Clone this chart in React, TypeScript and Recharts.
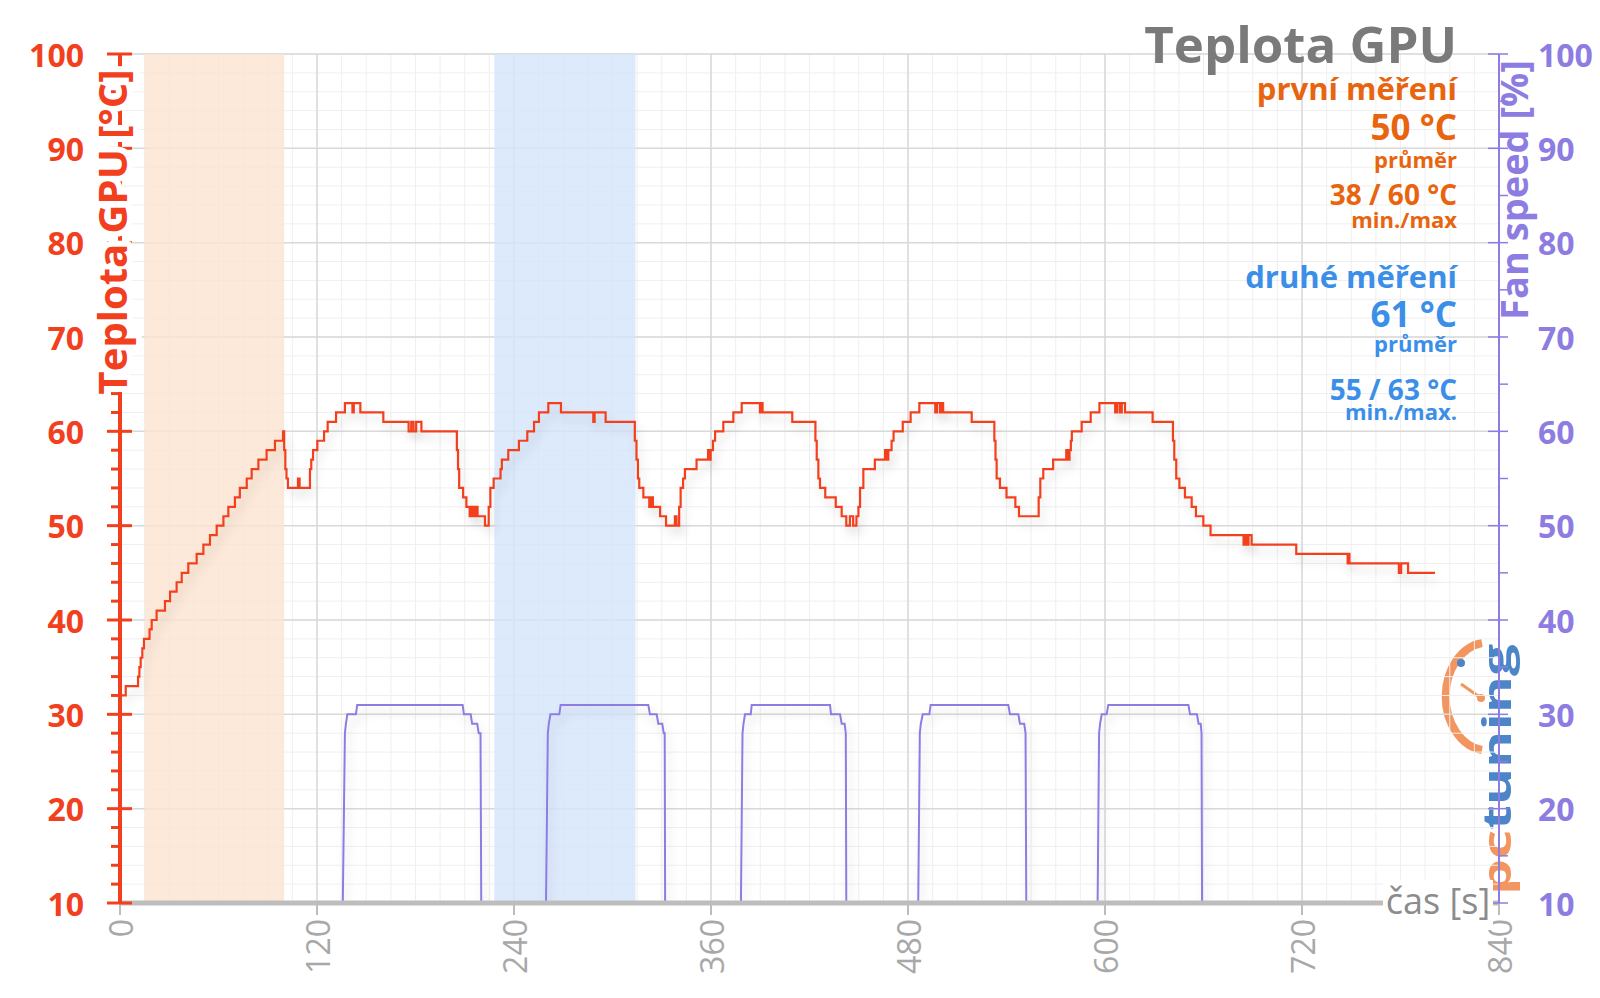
import React from "react";
import { LineChart, Line, XAxis, YAxis, CartesianGrid, ReferenceArea } from "recharts";

// časy [s] a teploty GPU (°C) – body změny hodnoty (schodový průběh)
const tempSteps: [number, number][] = [
  [0, 32], [3.5, 33], [11, 34], [11.8, 35], [12.6, 36], [13.6, 37], [14.6, 38], [18, 39], [19.3, 40],
  [22.3, 41], [27.4, 42], [30.5, 43], [34.5, 44], [37.6, 45], [41.6, 46], [46.7, 47], [50.8, 48],
  [54.8, 49], [58.9, 50], [63, 51], [66, 52], [70, 53], [73, 54], [77.2, 55], [80.2, 56], [84.3, 57],
  [89.3, 58], [94.4, 59], [99.3, 60],
  [100, 58], [100.7, 56], [101.4, 55], [102.3, 54], [108.4, 55], [109.4, 54], [115.7, 56], [116.5, 57],
  [117.6, 58], [120.2, 59], [124.3, 60], [126.5, 61], [131.6, 62], [137, 63], [141.6, 62], [142.4, 63],
  [146.4, 62], [160.4, 61], [175.8, 60], [177.4, 61], [178.8, 60], [180.4, 61], [183.6, 60],
  [205.2, 58], [205.9, 56], [206.6, 54], [209, 53], [211, 52], [213, 51], [214.2, 52], [215.4, 51],
  [216.6, 52], [217.8, 51], [222.3, 50], [224.6, 52], [225.6, 54], [227.6, 55], [231.8, 56], [232.6, 57],
  [236.5, 58], [243, 59], [248.1, 60], [252.2, 61], [255.2, 62], [260.9, 63], [268.6, 62], [288.3, 61],
  [289.1, 62], [295.8, 61],
  [313.6, 59], [314.6, 57], [315.5, 55], [316.3, 54], [318.8, 53], [322.4, 52], [323.4, 53], [324.6, 52],
  [329, 51], [332.6, 50], [338, 51], [339, 50], [340.6, 52], [341.5, 54], [343, 55], [344.1, 56],
  [351.2, 57], [358.2, 58], [359, 57], [359.8, 58], [361.2, 59], [362.5, 60], [367.5, 61], [373.6, 62],
  [378.7, 63], [389.8, 62], [390.4, 63], [391.4, 62], [409.5, 61],
  [423.6, 59], [424.4, 57], [425.4, 55], [426.4, 54], [429.6, 53], [436, 52], [439.6, 51], [442.4, 50],
  [444.6, 51], [446.6, 50], [448.6, 51], [449.8, 52], [450.8, 54], [452.8, 56], [459.8, 57], [466, 58],
  [467, 57], [468, 58], [470, 59], [471.2, 60], [476.8, 61], [481.6, 62], [486.9, 63], [496.6, 62],
  [497.6, 63], [499.4, 62], [500.2, 63], [501.4, 62], [518.8, 61],
  [532.6, 59], [533.3, 57], [534, 55], [536, 54], [540, 53], [545.4, 52], [547.6, 51], [559.6, 53],
  [560.6, 55], [562.4, 56], [568.4, 57], [576.4, 58], [577.4, 57], [578.4, 58], [579.2, 59], [579.8, 60],
  [585.8, 61], [591.3, 62], [596.6, 63], [606.2, 62], [607.4, 63], [609, 62], [610.2, 63], [612.2, 62],
  [629, 61],
  [641.4, 59], [642.2, 57], [643.4, 55], [645.3, 54], [648.7, 53], [652.8, 52], [655.4, 51], [659.9, 50],
  [664.3, 49], [684.4, 48], [685.4, 49], [686.6, 48], [687.4, 49], [689.3, 48], [716.5, 47], [747.8, 46],
  [748.4, 47], [748.9, 46], [779, 45], [780.4, 46], [784.6, 45], [801, 45],
];

// otáčky ventilátoru [%]
const fanPoints: [number, number][] = [
  [0, 0], [135, 0], [137, 28], [137.6, 29], [138.5, 30], [143.7, 30], [144.5, 31], [208.7, 31], [209.5, 30],
  [213.6, 30], [214.5, 29], [217.6, 29], [218.5, 28], [219.6, 28], [220.3, 0],
  [258.9, 0], [260.6, 28], [261.2, 29], [262.2, 30], [267.6, 30], [268.4, 31], [321.8, 31], [322.8, 30],
  [326.9, 30], [327.9, 29], [330.3, 29], [331.2, 28], [331.8, 28], [332.2, 0],
  [377.7, 0], [379.2, 28], [379.8, 29], [380.7, 30], [384.2, 30], [384.8, 31], [432.5, 31], [433.1, 30],
  [438.6, 30], [439.6, 29], [441.4, 29], [442.1, 28], [442.6, 0],
  [485.7, 0], [487.2, 28], [487.8, 29], [489, 30], [493, 30], [493.8, 31], [541.1, 31], [542.1, 30],
  [547.2, 30], [548.2, 29], [550.8, 29], [551.6, 28], [552.3, 0],
  [595, 0], [596.4, 28], [597, 29], [598, 30], [601, 30], [602, 31], [650.8, 31], [651.8, 30],
  [656, 30], [657, 29], [658.3, 29], [658.8, 28], [659.3, 0], [801, 0],
];

const timeTicks = [0, 120, 240, 360, 480, 600, 720, 840];
const tempMajor = [10, 20, 30, 40, 50, 60, 70, 80, 90, 100];
const tempMinor = Array.from({ length: 46 }, (_, i) => 10 + i * 2);
const fanTicks = Array.from({ length: 19 }, (_, i) => 10 + i * 5);
const timeMinor = Array.from({ length: 57 }, (_, i) => i * 15);

const tempData = tempSteps.map(([t, v]) => ({ t, temp: v }));
const fanData = fanPoints.map(([t, v]) => ({ t, fan: v }));

const RED = "#f2401f";
const PURPLE = "#8d7ce2";
const ORANGE_TXT = "#e8640e";
const BLUE_TXT = "#3b8fe8";
const FONT = "'Open Sans', sans-serif";

const PLOT_LEFT = 120;
const PLOT_RIGHT = 1499;
const PLOT_BOTTOM = 903;

const LeftTick = (props: any) => {
  const { y, payload } = props;
  const major = payload.value % 10 === 0;
  return (
    <g>
      <line x1={major ? PLOT_LEFT - 13 : PLOT_LEFT - 9} x2={major ? PLOT_LEFT + 12 : PLOT_LEFT} y1={y} y2={y} stroke={RED} strokeWidth={3} />
      {major && (
        <text x={84} y={y} textAnchor="end" dominantBaseline="central" fill={RED} fontSize={32} fontWeight={700} fontFamily={FONT}>
          {payload.value}
        </text>
      )}
    </g>
  );
};

const RightTick = (props: any) => {
  const { y, payload } = props;
  const major = payload.value % 10 === 0;
  return (
    <g>
      <line x1={major ? PLOT_RIGHT - 11 : PLOT_RIGHT} x2={PLOT_RIGHT + 9} y1={y} y2={y} stroke={PURPLE} strokeWidth={1.5} />
      {major && (
        <text x={1538} y={y} textAnchor="start" dominantBaseline="central" fill={PURPLE} fontSize={32} fontWeight={700} fontFamily={FONT}>
          {payload.value}
        </text>
      )}
    </g>
  );
};

const TimeTick = (props: any) => {
  const { x, payload } = props;
  return (
    <g>
      <line x1={x} x2={x} y1={PLOT_BOTTOM} y2={PLOT_BOTTOM + 12} stroke="#bdbdbd" strokeWidth={2} />
      <text transform={`translate(${x},${PLOT_BOTTOM + 16}) rotate(-90)`} textAnchor="end" dominantBaseline="central" fill="#a8a8a8" fontSize={32} fontFamily={FONT}>
        {payload.value}
      </text>
    </g>
  );
};

export default function App() {
  return (
    <div style={{ position: "absolute", left: 0, top: 0, width: 1600, height: 998, background: "#fff", fontFamily: FONT }}>
      {/* logo pod grafem */}
      <svg width={1600} height={998} style={{ position: "absolute", left: 0, top: 0 }}>
        <g opacity={0.9}>
          <path d="M 1482 643 A 42 54 0 0 0 1482 750" fill="none" stroke="#f28a4e" strokeWidth={8} />
          <line x1={1461} y1={684} x2={1481} y2={698} stroke="#f28a4e" strokeWidth={3} />
          <circle cx={1481} cy={698} r={4} fill="#f28a4e" />
          <circle cx={1461} cy={663} r={4} fill="#3a78c4" />
          <text transform="translate(1511,895) rotate(-90) scale(1.42,1)" fontSize={40} fontWeight={700} fontFamily={FONT}>
            <tspan fill="#f28a4e">pc</tspan>
            <tspan fill="#3a78c4">tuning</tspan>
          </text>
        </g>
      </svg>

      <div style={{ position: "absolute", left: 0, top: 0 }}>
        <LineChart width={1600} height={998} margin={{ top: 54, right: 0, bottom: 0, left: 0 }}>
          <CartesianGrid yAxisId="temp" horizontalValues={tempMinor} verticalValues={timeMinor} stroke="#efefef" strokeWidth={1} />
          <CartesianGrid yAxisId="temp" horizontalValues={tempMajor} verticalValues={timeTicks} stroke="#d9d9d9" strokeWidth={1.5} />
          <ReferenceArea yAxisId="temp" x1={15} x2={100} fill="#fce4cf" fillOpacity={0.8} stroke="none" />
          <ReferenceArea yAxisId="temp" x1={228} x2={314} fill="#d4e5fb" fillOpacity={0.8} stroke="none" />
          <XAxis
            dataKey="t"
            type="number"
            domain={[0, 840]}
            ticks={timeTicks}
            interval={0}
            height={95}
            tickLine={false}
            tickSize={0}
            axisLine={{ stroke: "#bdbdbd", strokeWidth: 5 }}
            tick={<TimeTick />}
          />
          <YAxis
            yAxisId="temp"
            type="number"
            domain={[10, 100]}
            ticks={tempMinor}
            interval={0}
            width={120}
            tickLine={false}
            tickSize={0}
            axisLine={{ stroke: RED, strokeWidth: 4 }}
            tick={<LeftTick />}
          />
          <YAxis
            yAxisId="fan"
            orientation="right"
            type="number"
            domain={[10, 100]}
            allowDataOverflow
            ticks={fanTicks}
            interval={0}
            width={101}
            tickLine={false}
            tickSize={0}
            axisLine={{ stroke: PURPLE, strokeWidth: 2 }}
            tick={<RightTick />}
          />
          <Line
            yAxisId="fan"
            data={fanData}
            dataKey="fan"
            type="linear"
            stroke={PURPLE}
            strokeWidth={2}
            dot={false}
            activeDot={false}
            isAnimationActive={false}
            filter="url(#lineShadow)"
          />
          <Line
            yAxisId="temp"
            data={tempData}
            dataKey="temp"
            type="stepAfter"
            stroke={RED}
            strokeWidth={2.2}
            dot={false}
            activeDot={false}
            isAnimationActive={false}
            filter="url(#lineShadow)"
          />
        </LineChart>
      </div>

      {/* popisky a texty nad grafem */}
      <svg width={1600} height={998} style={{ position: "absolute", left: 0, top: 0, pointerEvents: "none" }}>
        <defs>
          <filter id="lineShadow" x="-5%" y="-5%" width="110%" height="120%">
            <feDropShadow dx={3} dy={7} stdDeviation={5} floodColor="#000" floodOpacity={0.14} />
          </filter>
        </defs>

        <text transform="translate(127,232) rotate(-90)" textAnchor="middle" fill={RED} fontSize={40} fontWeight={700} fontFamily={FONT}
          stroke="#fff" strokeWidth={12} strokeLinejoin="round" paintOrder="stroke">
          Teplota GPU [°C]
        </text>
        <text transform="translate(1528,190) rotate(-90)" textAnchor="middle" fill={PURPLE} fontSize={38} fontWeight={700} fontFamily={FONT}>
          Fan speed [%]
        </text>

        <rect x={1383} y={880} width={110} height={50} fill="#fff" />
        <text x={1438} y={914} textAnchor="middle" fill="#8c8c8c" fontSize={36} fontFamily={FONT}>čas [s]</text>

        <g textAnchor="end" fontFamily={FONT} fontWeight={700}>
          <text x={1457} y={63} fontSize={51} fill="#7a7a7a">Teplota GPU</text>
          <text x={1457} y={100} fontSize={31} fill={ORANGE_TXT}>první měření</text>
          <text x={1457} y={140} fontSize={35} fill={ORANGE_TXT}>50 °C</text>
          <text x={1457} y={168} fontSize={22} fill={ORANGE_TXT}>průměr</text>
          <text x={1457} y={205} fontSize={28} fill={ORANGE_TXT}>38 / 60 °C</text>
          <text x={1457} y={228} fontSize={22} fill={ORANGE_TXT}>min./max</text>
          <text x={1457} y={288} fontSize={31} fill={BLUE_TXT}>druhé měření</text>
          <text x={1457} y={327} fontSize={35} fill={BLUE_TXT}>61 °C</text>
          <text x={1457} y={352} fontSize={22} fill={BLUE_TXT}>průměr</text>
          <text x={1457} y={400} fontSize={28} fill={BLUE_TXT}>55 / 63 °C</text>
          <text x={1457} y={420} fontSize={22} fill={BLUE_TXT}>min./max.</text>
        </g>
      </svg>
    </div>
  );
}
